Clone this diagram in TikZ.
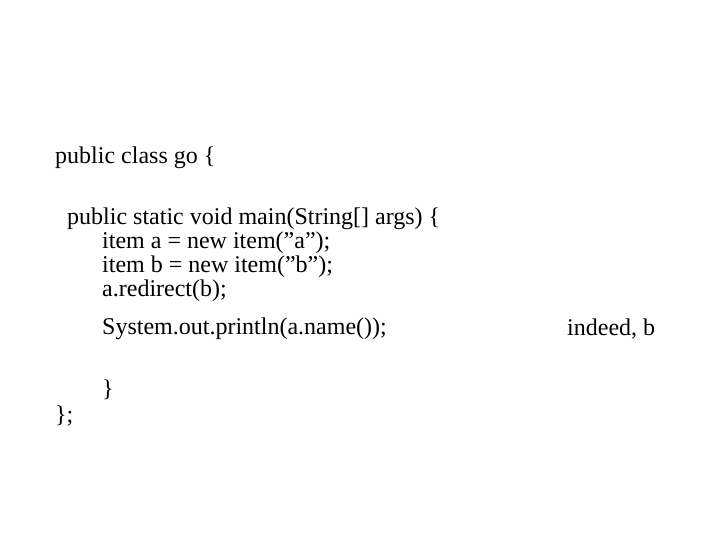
\documentclass[tikz,border=0pt]{standalone}
\usepackage{fontspec}
\setmainfont{Liberation Serif}
\begin{document}
\begin{tikzpicture}[x=1pt,y=-1pt,t/.style={anchor=west,inner sep=0pt,font=\fontsize{24}{28}\selectfont}]
\useasboundingbox (0,0) rectangle (720,540);
\node[t] (l1) at (55,158) {public class go \{};
\node[t] (l2) at (67,219) {public static void main(String[] args) \{};
\node[t] (l3) at (102,243) {item a = new item(\symbol{34}a\symbol{34});};
\node[t] (l4) at (102,267) {item b = new item(\symbol{34}b\symbol{34});};
\node[t] (l5) at (102,291) {a.redirect(b);};
\node[t] (l6) at (102,329) {System.out.println(a.name());};
\node[t] (l7) at (102,390) {\}};
\node[t] (l8) at (55,416) {\};};
\node[t] (r) at (567,329) {indeed, b};
\end{tikzpicture}
\end{document}
